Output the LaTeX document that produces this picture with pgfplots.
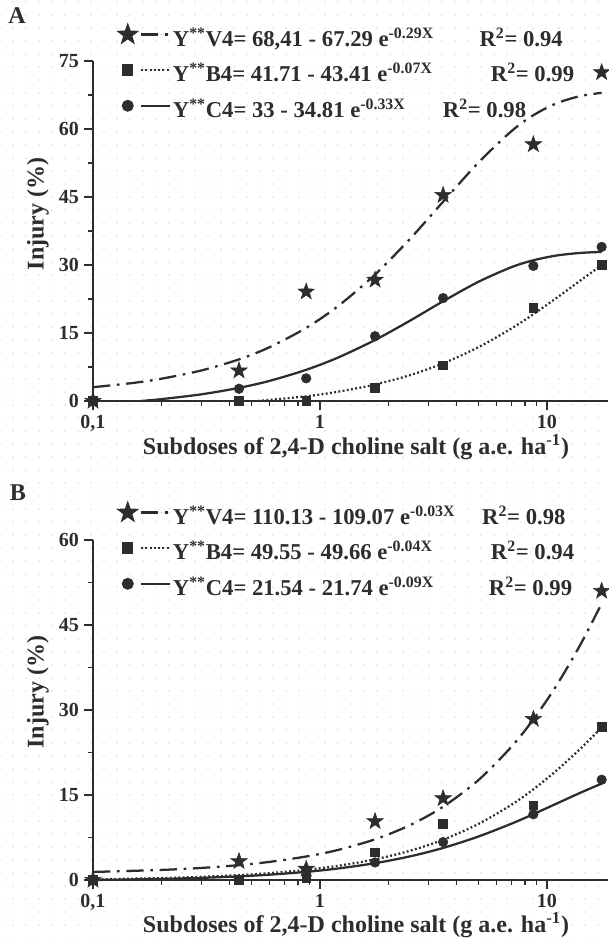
\documentclass[border=0pt]{standalone}
\usepackage{fontspec}
\setmainfont{Liberation Serif}
\usepackage{pgfplots}
\pgfplotsset{compat=1.18}
\usetikzlibrary{patterns.meta}
\definecolor{ink}{RGB}{45,45,45}

% filled five-point star
\pgfdeclareplotmark{fstar}{%
  \pgfpathmoveto{\pgfpointpolar{90}{\pgfplotmarksize}}%
  \pgfpathlineto{\pgfpointpolar{126}{0.4\pgfplotmarksize}}%
  \pgfpathlineto{\pgfpointpolar{162}{\pgfplotmarksize}}%
  \pgfpathlineto{\pgfpointpolar{198}{0.4\pgfplotmarksize}}%
  \pgfpathlineto{\pgfpointpolar{234}{\pgfplotmarksize}}%
  \pgfpathlineto{\pgfpointpolar{270}{0.4\pgfplotmarksize}}%
  \pgfpathlineto{\pgfpointpolar{306}{\pgfplotmarksize}}%
  \pgfpathlineto{\pgfpointpolar{342}{0.4\pgfplotmarksize}}%
  \pgfpathlineto{\pgfpointpolar{18}{\pgfplotmarksize}}%
  \pgfpathlineto{\pgfpointpolar{54}{0.4\pgfplotmarksize}}%
  \pgfpathclose
  \pgfusepathqfillstroke}

\tikzset{
  legimg/.style={/pgfplots/legend image code/.code={
    \draw[##1, mark=none] (10pt,5pt) -- (32pt,5pt);
    \draw[##1, solid] plot coordinates {(0pt,5pt)};}},
  v4/.style={ink, line width=1.7pt, dash pattern=on 13pt off 5pt on 2pt off 5pt},
  b4/.style={ink, line width=1.7pt, dash pattern=on 1.4pt off 1.8pt},
  c4/.style={ink, line width=1.7pt},
  lab/.style={font=\bfseries\fontsize{18}{21}\selectfont, text=ink},
}

\begin{document}
\begin{tikzpicture}
\useasboundingbox (0,0) rectangle (456pt,-703.5pt);
\begin{scope}[x=0.75pt,y=-0.75pt]
  \fill[pattern={Dots[distance=9.75pt,radius=0.5pt]}, pattern color=gray!60] (0,0) rectangle (608,938);
  \node[lab] at (17,16) {A};
  \node[lab] at (18,493) {B};
  \node[lab, rotate=90] at (38,214) {Injury (\%)};
  \node[lab, rotate=90] at (38,692) {Injury (\%)};
  \node[lab] at (356,447) {Subdoses of 2,4-D choline salt (g a.e. ha\textsuperscript{-1})};
  \node[lab] at (356,925) {Subdoses of 2,4-D choline salt (g a.e. ha\textsuperscript{-1})};
\end{scope}

% ---------------- panel A
\begin{axis}[at={(69.75pt,-300.75pt)}, anchor=south west,
    scale only axis, width=386.25pt, height=255pt,
    xmode=log, xmin=0.1, xmax=18.6, ymin=0, ymax=75, ytick={0,15,...,75},
    axis x line=bottom, axis y line=left,
    axis line style={-, line width=1.4pt, ink},
    every tick/.style={ink, line width=1pt},
    tick align=outside, major tick length=7pt, minor tick length=3.5pt,
    xtick={0.1,1,10}, xticklabels={{0,1},1,10},
    minor xtick={0.2,0.3,0.4,0.5,0.6,0.7,0.8,0.9,2,3,4,5,6,7,8,9},
    minor y tick num=1,
    /pgf/number format/assume math mode=true,
    tick label style={font=\bfseries\fontsize{15}{17}\selectfont, text=ink},
    clip=false,
    legend cell align=left,
    legend style={draw=none, fill=none, anchor=north west, at={(0.051,1.104)},
      font=\bfseries\fontsize{17}{19}\selectfont, text=ink,
      row sep=10.25pt, column sep=1pt, inner sep=0pt,
      nodes={inner sep=0pt, text height=12pt, text depth=4pt}}]
  \addplot[v4, smooth, forget plot] coordinates {(0.1,3.04)(0.15,3.98)(0.2,4.91)(0.3,6.73)(0.44,9.18)(0.6,11.87)(0.87,16.13)(1.2,20.90)(1.75,27.90)(2.5,35.82)(3.49,43.96)(5,52.62)(7,59.57)(8.72,63.04)(11,65.64)(14,67.25)(17.44,67.98)};
  \addplot[b4, smooth, forget plot] coordinates {(0.533,0)(0.87,1.04)(1.2,2.04)(1.75,3.64)(2.5,5.72)(3.49,8.30)(5,11.88)(7,16.03)(8.72,19.14)(11,22.69)(14,26.52)(17.44,29.97)};
  \addplot[c4, smooth, forget plot] coordinates {(0.162,0)(0.2,0.41)(0.3,1.47)(0.44,2.90)(0.6,4.44)(0.87,6.88)(1.2,9.57)(1.75,13.46)(2.5,17.75)(3.49,22.00)(5,26.31)(7,29.54)(8.72,31.04)(11,32.08)(14,32.66)(17.44,32.89)};
  \addplot[only marks, mark=fstar, mark size=6.5pt, fill=ink, draw=ink, forget plot] coordinates {(0.1,0)(0.44,6.7)(0.87,24.1)(1.75,26.7)(3.49,45.4)(8.72,56.6)(17.44,72.5)};
  \addplot[only marks, mark=square*, mark size=3.3pt, fill=ink, draw=ink, forget plot] coordinates {(0.1,0)(0.44,0)(0.87,0)(1.75,3.0)(3.49,7.9)(8.72,20.6)(17.44,30.1)};
  \addplot[only marks, mark=*, mark size=3.6pt, fill=ink, draw=ink, forget plot] coordinates {(0.1,0)(0.44,2.7)(0.87,5.0)(1.75,14.3)(3.49,22.7)(8.72,29.8)(17.44,34)};
  \addlegendimage{legimg, v4, mark=fstar, mark size=6.5pt, fill=ink, mark options={solid}}
  \addlegendentry{\makebox[230pt][l]{Y\textsuperscript{**}V4= 68,41 - 67.29 e\textsuperscript{-0.29X}}R\textsuperscript{2}= 0.94}
  \addlegendimage{legimg, b4, mark=square*, mark size=3.3pt, fill=ink, mark options={solid}}
  \addlegendentry{\makebox[238.5pt][l]{Y\textsuperscript{**}B4= 41.71 - 43.41 e\textsuperscript{-0.07X}}R\textsuperscript{2}= 0.99}
  \addlegendimage{legimg, c4, mark=*, mark size=3.6pt, fill=ink, mark options={solid}}
  \addlegendentry{\makebox[202.5pt][l]{Y\textsuperscript{**}C4= 33 - 34.81 e\textsuperscript{-0.33X}}R\textsuperscript{2}= 0.98}
\end{axis}

% ---------------- panel B
\begin{axis}[at={(69.75pt,-660pt)}, anchor=south west,
    scale only axis, width=386.25pt, height=255pt,
    xmode=log, xmin=0.1, xmax=18.6, ymin=0, ymax=60, ytick={0,15,...,60},
    axis x line=bottom, axis y line=left,
    axis line style={-, line width=1.4pt, ink},
    every tick/.style={ink, line width=1pt},
    tick align=outside, major tick length=7pt, minor tick length=3.5pt,
    xtick={0.1,1,10}, xticklabels={{0,1},1,10},
    minor xtick={0.2,0.3,0.4,0.5,0.6,0.7,0.8,0.9,2,3,4,5,6,7,8,9},
    minor y tick num=1,
    /pgf/number format/assume math mode=true,
    tick label style={font=\bfseries\fontsize{15}{17}\selectfont, text=ink},
    clip=false,
    legend cell align=left,
    legend style={draw=none, fill=none, anchor=north west, at={(0.051,1.107)},
      font=\bfseries\fontsize{17}{19}\selectfont, text=ink,
      row sep=10.25pt, column sep=1pt, inner sep=0pt,
      nodes={inner sep=0pt, text height=12pt, text depth=4pt}}]
  \addplot[v4, smooth, forget plot] coordinates {(0.1,1.42)(0.2,1.78)(0.3,2.13)(0.44,2.63)(0.6,3.20)(0.87,4.15)(1.2,5.30)(1.75,7.18)(2.5,9.70)(3.49,12.93)(5,17.65)(7,23.56)(8.72,28.34)(11,34.26)(14,41.42)(17.44,48.79)};
  \addplot[b4, smooth, forget plot] coordinates {(0.1,0.11)(0.2,0.34)(0.3,0.56)(0.44,0.86)(0.6,1.21)(0.87,1.80)(1.2,2.50)(1.75,3.65)(2.5,5.17)(3.49,7.11)(5,9.90)(7,13.31)(8.72,16.01)(11,19.28)(14,23.10)(17.44,26.90)};
  \addplot[c4, smooth, forget plot] coordinates {(0.1,0)(0.2,0.19)(0.3,0.38)(0.44,0.64)(0.6,0.94)(0.87,1.44)(1.2,2.03)(1.75,2.97)(2.5,4.18)(3.49,5.66)(5,7.68)(7,9.96)(8.72,11.62)(11,13.46)(14,15.37)(17.44,17.02)};
  \addplot[only marks, mark=fstar, mark size=6.5pt, fill=ink, draw=ink, forget plot] coordinates {(0.1,0)(0.44,3.3)(0.87,1.95)(1.75,10.35)(3.49,14.4)(8.72,28.4)(17.44,51)};
  \addplot[only marks, mark=square*, mark size=3.3pt, fill=ink, draw=ink, forget plot] coordinates {(0.1,0)(0.44,0)(0.87,0.3)(1.75,4.9)(3.49,9.95)(8.72,13.2)(17.44,27.1)};
  \addplot[only marks, mark=*, mark size=3.6pt, fill=ink, draw=ink, forget plot] coordinates {(0.1,0)(0.44,0)(0.87,1.65)(1.75,3.1)(3.49,6.7)(8.72,11.6)(17.44,17.7)};
  \addlegendimage{legimg, v4, mark=fstar, mark size=6.5pt, fill=ink, mark options={solid}}
  \addlegendentry{\makebox[232pt][l]{Y\textsuperscript{**}V4= 110.13 - 109.07 e\textsuperscript{-0.03X}}R\textsuperscript{2}= 0.98}
  \addlegendimage{legimg, b4, mark=square*, mark size=3.3pt, fill=ink, mark options={solid}}
  \addlegendentry{\makebox[238.5pt][l]{Y\textsuperscript{**}B4= 49.55 - 49.66 e\textsuperscript{-0.04X}}R\textsuperscript{2}= 0.94}
  \addlegendimage{legimg, c4, mark=*, mark size=3.6pt, fill=ink, mark options={solid}}
  \addlegendentry{\makebox[237pt][l]{Y\textsuperscript{**}C4= 21.54 - 21.74 e\textsuperscript{-0.09X}}R\textsuperscript{2}= 0.99}
\end{axis}
\end{tikzpicture}
\end{document}
